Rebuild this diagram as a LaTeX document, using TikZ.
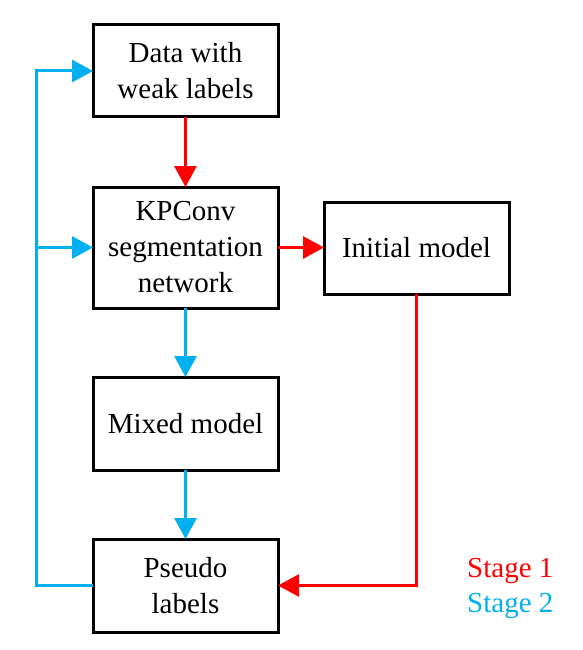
\documentclass[tikz,border=0pt]{standalone}
\usepackage{fontspec}
\setmainfont{Liberation Serif}
\newfontfamily\tnrfont{Liberation Serif}
\usetikzlibrary{arrows.meta}
\definecolor{sred}{RGB}{255,0,0}
\definecolor{sblue}{RGB}{0,176,240}
\begin{document}
\begin{tikzpicture}[x=1pt,y=-1pt,
  box/.style={draw=black,line width=3pt,inner sep=0pt,outer sep=0pt,minimum width=185pt,align=center,font=\tnrfont\fontsize{29}{36}\selectfont},
  conn/.style={line width=3pt,-{Triangle[length=21pt,width=22pt]}},
  lbl/.style={inner sep=0pt,anchor=base west,font=\tnrfont\fontsize{29}{36}\selectfont}]
\useasboundingbox (0,0) rectangle (582,650);
\node[box,minimum height=92pt] (data) at (185.5,71) {Data with\\weak labels};
\node[box,minimum height=121pt] (kp) at (185.5,247.5) {KPConv\\segmentation\\network};
\node[box,minimum height=92pt] (init) at (416.5,248) {Initial model};
\node[box,minimum height=93pt] (mixed) at (185.5,423.5) {Mixed model};
\node[box,minimum height=93pt] (pseudo) at (185.5,585.5) {Pseudo\\labels};
\coordinate (loopx) at (36,0);
\node[lbl,text=sred] (s1) at (467,577) {Stage 1};
\node[lbl,text=sblue] (s2) at (467,612) {Stage 2};
\draw[conn,sred] (data) -- (kp);
\draw[conn,sred] (kp.east) -- (kp.east -| init.west);
\draw[conn,sred] (init.south) |- (pseudo.east);
\draw[conn,sblue] (kp) -- (mixed);
\draw[conn,sblue] (mixed) -- (pseudo);
\draw[conn,sblue,line join=miter] (pseudo.west) -- (pseudo.west -| loopx) |- (data.west);
\draw[conn,sblue] (kp.west -| loopx) -- (kp.west);
\end{tikzpicture}
\end{document}
